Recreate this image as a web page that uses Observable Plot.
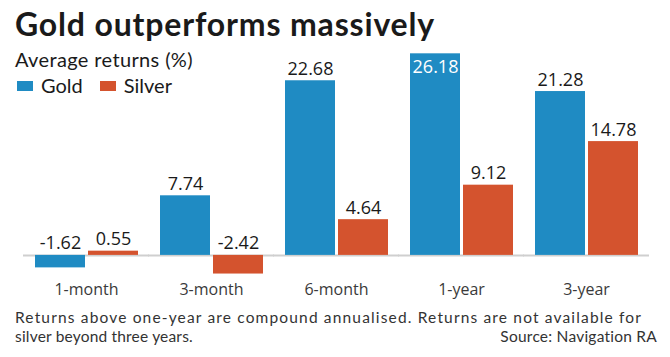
<!DOCTYPE html>
<html>
<head>
<meta charset="utf-8">
<script src="https://cdn.jsdelivr.net/npm/d3@7"></script>
<script src="https://cdn.jsdelivr.net/npm/@observablehq/plot@0.6"></script>
<style>
  html, body { margin: 0; padding: 0; background: #fff; }
  #wrap { position: relative; width: 670px; height: 357px; overflow: hidden; font-family: Lato, sans-serif; }
  #chart { position: absolute; left: 0; top: 0; }
  .abs { position: absolute; white-space: nowrap; }
  #title { left: 15px; top: 8px; font: bold 32px/32px Lato, sans-serif; color: #1a1a1a; }
  #subtitle { left: 15px; top: 49px; font: 20px/20px Lato, sans-serif; color: #1a1a1a; }
  #legend { left: 17px; top: 75px; font: 20px/20px Lato, sans-serif; color: #1a1a1a; display: flex; align-items: center; }
  .sw { display: inline-block; width: 16px; height: 10px; margin-right: 8px; margin-top: 1px; }
  .item { display: flex; align-items: center; margin-right: 17px; }
  #foot1 { left: 15px; top: 308px; font: 15.5px/19px Lato, sans-serif; color: #333; }
  #foot2a { left: 15px; top: 327px; font: 15.5px/19px Lato, sans-serif; color: #333; }
  #foot2b { right: 13px; top: 327px; font: 15.5px/19px Lato, sans-serif; color: #333; }
</style>
</head>
<body>
<div id="wrap">
  <div id="chart"></div>
  <div id="title" class="abs"></div>
  <div id="subtitle" class="abs"></div>
  <div id="legend" class="abs"></div>
  <div id="foot1" class="abs"></div>
  <div id="foot2a" class="abs"></div>
  <div id="foot2b" class="abs"></div>
</div>
<script>
const titleText = "Gold outperforms massively";
const subtitleText = "Average returns (%)";
const periods = ["1-month", "3-month", "6-month", "1-year", "3-year"];
const metals = ["Gold", "Silver"];
const colors = ["#1f8bc3", "#d4532e"];
const gold = [-1.62, 7.74, 22.68, 26.18, 21.28];
const silver = [0.55, -2.42, 4.64, 9.12, 14.78];
const insideLabels = ["1-year|Gold"];
const note1 = "Returns above one-year are compound annualised. Returns are not available for";
const note2 = "silver beyond three years.";
const source = "Source: Navigation RA";

function setText(id, txt, targetWidth) {
  const el = document.getElementById(id);
  el.textContent = txt;
  if (targetWidth) {
    const w = el.getBoundingClientRect().width;
    const ls = (targetWidth - w) / txt.length;
    el.style.letterSpacing = ls.toFixed(2) + "px";
  }
}
setText("title", titleText, 420);
setText("subtitle", subtitleText, 178);
setText("foot1", note1, 627);
setText("foot2a", note2, 178);
setText("foot2b", source, 157);

const legend = document.getElementById("legend");
metals.forEach((m, i) => {
  const item = document.createElement("span");
  item.className = "item";
  const sw = document.createElement("span");
  sw.className = "sw";
  sw.style.background = colors[i];
  item.appendChild(sw);
  item.appendChild(document.createTextNode(m));
  legend.appendChild(item);
});

const rows = [];
periods.forEach((p, i) => {
  rows.push({period: p, metal: "Gold", value: gold[i]});
  rows.push({period: p, metal: "Silver", value: silver[i]});
});
rows.forEach(d => d.inside = insideLabels.includes(d.period + "|" + d.metal));

const chart = Plot.plot({
  width: 670,
  height: 300,
  marginLeft: 32,
  marginRight: 30,
  marginTop: 47,
  marginBottom: 22,
  style: {fontFamily: "'Open Sans', sans-serif", background: "transparent"},
  fx: {domain: periods, paddingInner: 0.17, paddingOuter: 0, label: null},
  x: {domain: metals, paddingInner: 0.06, paddingOuter: 0, axis: null},
  y: {domain: [-3, 27], axis: null},
  color: {type: "ordinal", domain: metals, range: colors},
  marks: [
    Plot.ruleY([0], {stroke: "#cfcfcf", strokeWidth: 2, insetLeft: -11, insetRight: -11}),
    Plot.barY(rows, {fx: "period", x: "metal", y: "value", fill: {value: "metal", scale: "color"}}),
    Plot.text(rows.filter(d => !d.inside), {
      fx: "period", x: "metal", y: d => Math.max(0, d.value),
      text: d => d.value.toFixed(2), lineAnchor: "bottom", dy: -6,
      fontSize: 18, fill: "#1a1a1a"
    }),
    Plot.text(rows.filter(d => d.inside), {
      fx: "period", x: "metal", y: "value",
      text: d => d.value.toFixed(2), lineAnchor: "top", dy: 6,
      fontSize: 18, fill: "white"
    }),
    Plot.axisFx({anchor: "bottom", tickSize: 0, tickPadding: 5, fontSize: 16, fill: "#3a3a3a", label: null})
  ]
});
document.getElementById("chart").appendChild(chart);
</script>
</body>
</html>
